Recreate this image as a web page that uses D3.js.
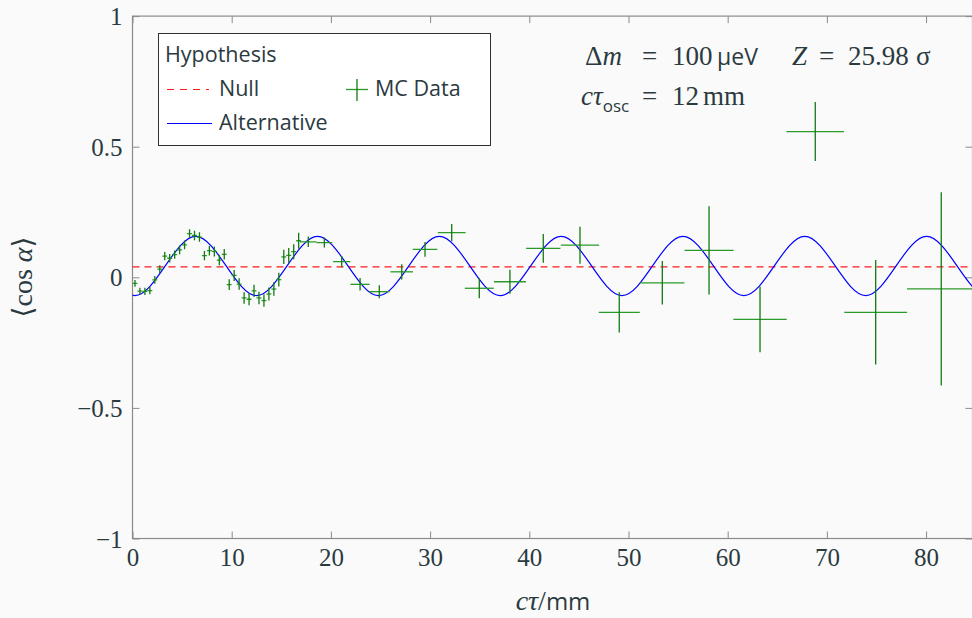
<!DOCTYPE html>
<html>
<head>
<meta charset="utf-8">
<script src="https://cdn.jsdelivr.net/npm/d3@7"></script>
<style>
  html, body { margin: 0; padding: 0; background: #fafafa; }
  svg { display: block; }
</style>
</head>
<body>
<svg id="chart" width="972" height="618"></svg>
<script>
// MC data, fine bins (0.5 mm wide)
const fineX = [0.25, 0.75, 1.25, 1.75, 2.25, 2.75, 3.25, 3.75, 4.25, 4.75, 5.25, 5.75,
    6.25, 6.75, 7.25, 7.75, 8.25, 8.75, 9.25, 9.75, 10.25, 10.75, 11.25, 11.75,
    12.25, 12.75, 13.25, 13.75, 14.25, 14.75, 15.25, 15.75, 16.25, 16.75];
const fineY = [-0.023, -0.053, -0.054, -0.051, -0.010, 0.031, 0.081, 0.073, 0.087, 0.105, 0.124, 0.167,
    0.160, 0.154, 0.083, 0.102, 0.099, 0.066, 0.088, -0.028, 0.007, -0.026, -0.079, -0.084,
    -0.052, -0.079, -0.089, -0.064, -0.045, -0.009, 0.078, 0.084, 0.098, 0.140];
const fineYErr = [0.013, 0.013, 0.014, 0.014, 0.015, 0.015, 0.016, 0.016, 0.016, 0.017, 0.017, 0.017,
    0.018, 0.018, 0.018, 0.019, 0.019, 0.020, 0.020, 0.021, 0.021, 0.022, 0.022, 0.023,
    0.023, 0.024, 0.024, 0.025, 0.026, 0.026, 0.027, 0.028, 0.029, 0.031];

// MC data, wide bins
const wideX = [17.72, 19.34, 21.09, 22.94, 24.88, 27.14, 29.49, 32.18, 34.96, 38.05,
    41.41, 45.11, 49.07, 53.41, 58.12, 63.26, 68.83, 74.92, 81.53];
const wideXErr = [0.84, 0.80, 0.87, 0.97, 1.04, 1.14, 1.24, 1.40, 1.46, 1.61,
    1.73, 1.93, 2.07, 2.23, 2.47, 2.69, 2.90, 3.17, 3.45];
const wideY = [0.136, 0.133, 0.060, -0.027, -0.055, 0.021, 0.107, 0.171, -0.042, -0.017,
    0.111, 0.123, -0.134, -0.021, 0.103, -0.161, 0.558, -0.134, -0.044];
const wideYErr = [0.020, 0.019, 0.022, 0.024, 0.025, 0.029, 0.028, 0.033, 0.038, 0.046,
    0.055, 0.071, 0.077, 0.083, 0.169, 0.126, 0.113, 0.200, 0.370];

// Null hypothesis (constant) and alternative hypothesis (oscillation extrema / crossings)
const nullValue = 0.040;
const altX = [-2.84, 0.23, 3.30, 6.37, 9.44, 12.51, 15.58, 18.65, 21.72, 24.79, 27.86, 30.93,
    34.00, 37.07, 40.14, 43.21, 46.28, 49.35, 52.42, 55.49, 58.56, 61.63, 64.70,
    67.77, 70.84, 73.91, 76.98, 80.05, 83.12, 86.19, 89.26];
const altY = [0.0435, -0.070, 0.0435, 0.157, 0.0435, -0.070, 0.0435, 0.157, 0.0435, -0.070, 0.0435, 0.157,
    0.0435, -0.070, 0.0435, 0.157, 0.0435, -0.070, 0.0435, 0.157, 0.0435, -0.070, 0.0435,
    0.157, 0.0435, -0.070, 0.0435, 0.157, 0.0435, -0.070, 0.0435];

const xTicks = [0, 10, 20, 30, 40, 50, 60, 70, 80];
const yTicks = [-1, -0.5, 0, 0.5, 1];

const svg = d3.select('#chart');
const textColor = '#2b3a3f';
const serif = '"Liberation Serif", "DejaVu Serif", serif';
const sans = '"Open Sans", "DejaVu Sans", sans-serif';

const pLeft = 132.5, pRight = 972.5, pTop = 16.1, pBottom = 538.5;
const x = d3.scaleLinear().domain([0, 84.68]).range([pLeft, pRight]);
const y = d3.scaleLinear().domain([-1, 1]).range([pBottom, pTop]);

svg.append('rect').attr('width', 972).attr('height', 618).attr('fill', '#fafafa');

svg.append('defs').append('clipPath').attr('id', 'plotClip')
    .append('rect')
    .attr('x', pLeft).attr('y', pTop)
    .attr('width', pRight - pLeft).attr('height', pBottom - pTop);

// frame ticks (pointing inward on all four sides)
const tickLen = 7;
const axes = [
    { axis: d3.axisBottom(x).tickValues(xTicks), t: `translate(0,${pBottom})`, labels: true, dy: '0.71em' },
    { axis: d3.axisTop(x).tickValues(xTicks), t: `translate(0,${pTop})`, labels: false },
    { axis: d3.axisLeft(y).tickValues(yTicks), t: `translate(${pLeft},0)`, labels: true, dy: '0.34em' },
    { axis: d3.axisRight(y).tickValues(yTicks), t: `translate(${pRight},0)`, labels: false }
];
axes.forEach(a => {
    const g = svg.append('g')
        .attr('transform', a.t)
        .call(a.axis.tickSizeInner(-tickLen).tickSizeOuter(0).tickPadding(10).tickFormat(d3.format('')));
    g.select('.domain').remove();
    g.selectAll('.tick line').attr('stroke', '#8a8a8a').attr('stroke-width', 1);
    if (!a.labels) {
        g.selectAll('.tick text').remove();
        return;
    }
    g.selectAll('.tick text')
        .attr('fill', textColor)
        .attr('dy', a.dy)
        .style('font-family', serif)
        .style('font-size', '25px');
});

// plot frame
svg.append('rect')
    .attr('x', pLeft).attr('y', pTop)
    .attr('width', pRight - pLeft).attr('height', pBottom - pTop)
    .attr('fill', 'none')
    .attr('stroke', '#8a8a8a')
    .attr('stroke-width', 1.2);

const plot = svg.append('g').attr('clip-path', 'url(#plotClip)');

// null hypothesis
plot.append('line')
    .attr('x1', x(0)).attr('x2', x(84.68))
    .attr('y1', y(nullValue)).attr('y2', y(nullValue))
    .attr('stroke', '#ff1a1a')
    .attr('stroke-width', 1.2)
    .attr('stroke-dasharray', '7,5');

// alternative hypothesis
const altLine = d3.line()
    .x((d, i) => x(altX[i]))
    .y(d => y(d))
    .curve(d3.curveNatural);
plot.append('path')
    .attr('d', altLine(altY))
    .attr('fill', 'none')
    .attr('stroke', '#0000ff')
    .attr('stroke-width', 1.2);

// MC data with error bars
const data = fineX.map((v, i) => ({ x: v, xe: 0.25, y: fineY[i], ye: fineYErr[i] }))
    .concat(wideX.map((v, i) => ({ x: v, xe: wideXErr[i], y: wideY[i], ye: wideYErr[i] })));

const marks = plot.selectAll('g.point')
    .data(data)
    .enter()
    .append('g')
    .attr('class', 'point');
marks.append('line')
    .attr('x1', d => x(d.x - d.xe)).attr('x2', d => x(d.x + d.xe))
    .attr('y1', d => y(d.y)).attr('y2', d => y(d.y))
    .attr('stroke', '#2a9a2a')
    .attr('stroke-width', 1.3);
marks.append('line')
    .attr('x1', d => x(d.x)).attr('x2', d => x(d.x))
    .attr('y1', d => y(d.y - d.ye)).attr('y2', d => y(d.y + d.ye))
    .attr('stroke', '#117a11')
    .attr('stroke-width', 1.3);

// axis titles
svg.append('text')
    .attr('x', 553).attr('y', 610)
    .attr('text-anchor', 'middle')
    .attr('fill', textColor)
    .style('font-family', serif)
    .style('font-size', '28px')
    .call(t => {
        t.append('tspan').attr('font-style', 'italic').text('cτ');
        t.append('tspan').text('/');
        t.append('tspan').style('font-family', sans).style('font-size', '24px').text('mm');
    });

svg.append('text')
    .attr('transform', 'translate(32,277) rotate(-90)')
    .attr('text-anchor', 'middle')
    .attr('fill', textColor)
    .style('font-family', serif)
    .style('font-size', '28px')
    .call(t => {
        t.append('tspan').text('⟨cos ');
        t.append('tspan').attr('font-style', 'italic').text('α');
        t.append('tspan').text('⟩');
    });

// legend
const legend = svg.append('g');
legend.append('rect')
    .attr('x', 158.5).attr('y', 33.5)
    .attr('width', 332).attr('height', 112)
    .attr('fill', '#ffffff')
    .attr('stroke', '#303030')
    .attr('stroke-width', 1);
const legText = (tx, ty, s) => legend.append('text')
    .attr('x', tx).attr('y', ty)
    .attr('fill', textColor)
    .style('font-family', sans)
    .style('font-size', '21.5px')
    .text(s);
legText(165, 62, 'Hypothesis');
legText(219, 96, 'Null');
legText(219, 130, 'Alternative');
legText(375, 96, 'MC Data');
legend.append('line')
    .attr('x1', 167).attr('x2', 209).attr('y1', 89.5).attr('y2', 89.5)
    .attr('stroke', '#ff1a1a').attr('stroke-width', 1.2).attr('stroke-dasharray', '7,6');
legend.append('line')
    .attr('x1', 167).attr('x2', 212).attr('y1', 123.5).attr('y2', 123.5)
    .attr('stroke', '#0000ff').attr('stroke-width', 1.2);
legend.append('line')
    .attr('x1', 346).attr('x2', 368).attr('y1', 89.5).attr('y2', 89.5)
    .attr('stroke', '#2a9a2a').attr('stroke-width', 1.3);
legend.append('line')
    .attr('x1', 357).attr('x2', 357).attr('y1', 79).attr('y2', 101)
    .attr('stroke', '#117a11').attr('stroke-width', 1.3);

// annotation
const note = svg.append('g')
    .attr('fill', textColor)
    .style('font-family', serif)
    .style('font-size', '27px');
note.append('text')
    .attr('y', 65)
    .call(t => {
        t.append('tspan').attr('x', 585).text('Δ');
        t.append('tspan').attr('font-style', 'italic').text('m');
        t.append('tspan').attr('x', 642).text('=');
        t.append('tspan').attr('x', 672).text('100');
        t.append('tspan').attr('x', 717).style('font-family', sans).style('font-size', '23px').text('µeV');
        t.append('tspan').attr('x', 792).attr('font-style', 'italic').text('Z');
        t.append('tspan').attr('x', 819).text('=');
        t.append('tspan').attr('x', 848).text('25.98');
        t.append('tspan').attr('x', 916).text('σ');
    });
note.append('text')
    .attr('y', 105)
    .call(t => {
        t.append('tspan').attr('x', 581).attr('font-style', 'italic').text('cτ');
        t.append('tspan').attr('dy', 7).style('font-family', sans).style('font-size', '17px').text('osc');
        t.append('tspan').attr('x', 642).attr('dy', -7).text('=');
        t.append('tspan').attr('x', 672).text('12');
        t.append('tspan').attr('x', 703).text('mm');
    });
</script>
</body>
</html>
